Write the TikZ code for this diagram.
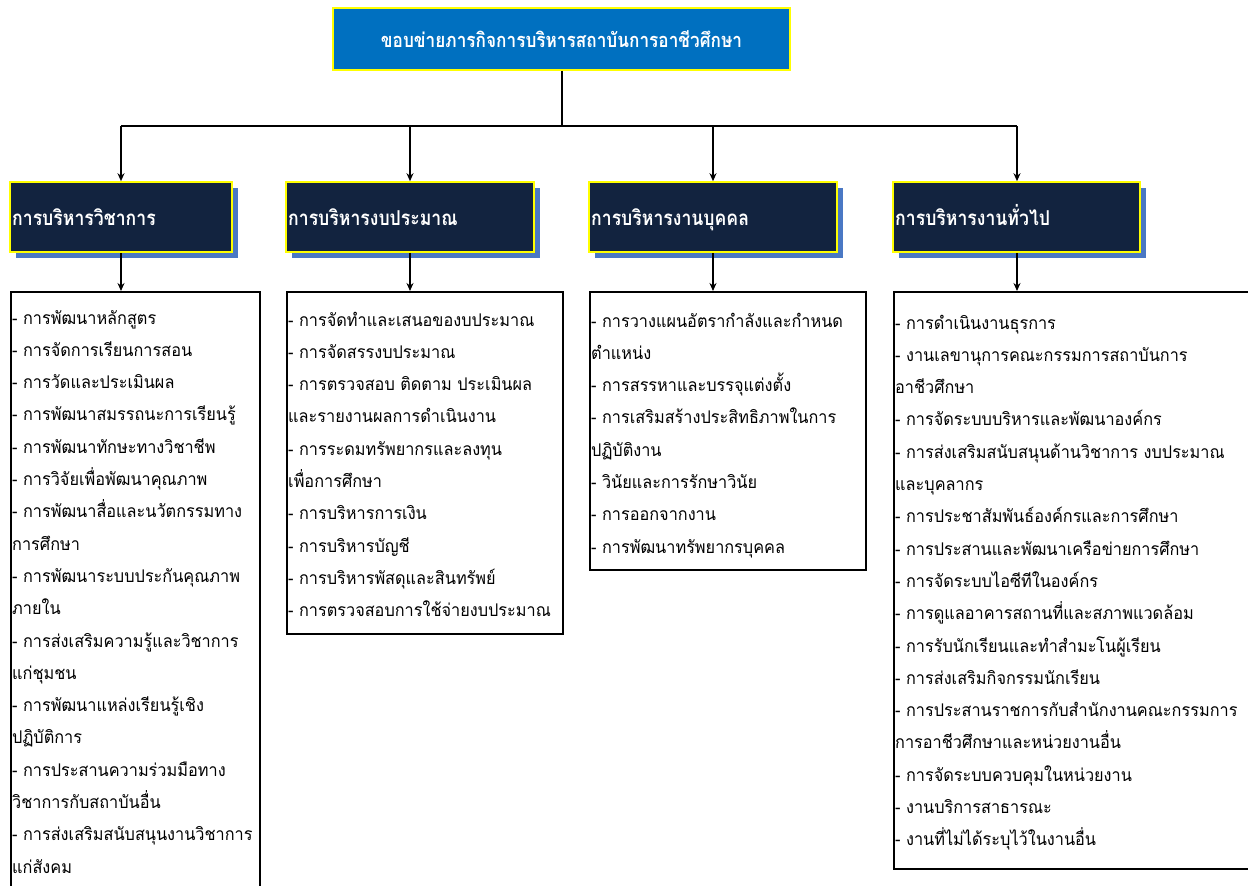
\documentclass[tikz,border=0pt]{standalone}
\usepackage{fontspec}
\newfontfamily\thai[Script=Thai,FakeStretch=0.93]{Loma}
\newfontfamily\thaihdr[Script=Thai,FakeStretch=0.86]{Loma}
\usetikzlibrary{arrows.meta}
\definecolor{topblue}{HTML}{0070C0}
\definecolor{navy}{HTML}{12233F}
\definecolor{shadowblue}{HTML}{4A78C4}
\definecolor{ylw}{HTML}{FFFF00}
\begin{document}
\begin{tikzpicture}[x=1pt,y=-1pt,
  conn/.style={line width=1.8pt,black},
  arr/.style={line width=1.8pt,black,-{Stealth[length=8pt,width=7pt]}},
  titlebox/.style={draw=ylw,line width=1.6pt,fill=topblue,inner sep=0pt},
  hdrbox/.style={draw=ylw,line width=1.6pt,fill=navy,inner sep=0pt},
  shadowbox/.style={fill=shadowblue,draw=none,inner sep=0pt},
  listbox/.style={draw=black,line width=1.5pt,fill=white,inner sep=0pt},
  hdrtext/.style={text=white,font=\thaihdr\bfseries\fontsize{20.5}{23}\selectfont,inner sep=0pt,anchor=base west},
  item/.style={text=black,font=\thai\fontsize{17.5}{20}\selectfont,inner sep=0pt,anchor=base west}]
\useasboundingbox (0,0) rectangle (1248,886);
\clip (0,0) rectangle (1248,886);
% title
\node[titlebox,minimum width=457pt,minimum height=62pt] (top) at (561.5,39) {};
\node[text=white,font=\thaihdr\bfseries\fontsize{20}{23}\selectfont,inner sep=0pt] (toptext) at (top.center) {ขอบข่ายภารกิจการบริหารสถาบันการอาชีวศึกษา};
% shadows
\node[shadowbox,minimum width=222pt,minimum height=70pt] (s1) at (127,223) {};
\node[shadowbox,minimum width=248pt,minimum height=70pt] (s2) at (416,223) {};
\node[shadowbox,minimum width=248pt,minimum height=70pt] (s3) at (719,223) {};
\node[shadowbox,minimum width=247pt,minimum height=70pt] (s4) at (1022.5,223) {};
% headers
\node[hdrbox,minimum width=222pt,minimum height=70pt] (h1) at (121,217) {};
\node[hdrbox,minimum width=248pt,minimum height=70pt] (h2) at (410,217) {};
\node[hdrbox,minimum width=248pt,minimum height=70pt] (h3) at (713,217) {};
\node[hdrbox,minimum width=247pt,minimum height=70pt] (h4) at (1016.5,217) {};
\node[hdrtext] (t1) at (12,225) {การบริหารวิชาการ};
\node[hdrtext] (t2) at (288,225) {การบริหารงบประมาณ};
\node[hdrtext] (t3) at (591,225) {การบริหารงานบุคคล};
\node[hdrtext] (t4) at (895,225) {การบริหารงานทั่วไป};
% list boxes
\node[listbox,minimum width=249pt,minimum height=610pt,anchor=north west] (b1) at (10,291) {};
\node[listbox,minimum width=276pt,minimum height=342pt,anchor=north west] (b2) at (286,291) {};
\node[listbox,minimum width=276pt,minimum height=278pt,anchor=north west] (b3) at (589,291) {};
\node[listbox,minimum width=370pt,minimum height=577pt,anchor=north west] (b4) at (893,291) {};
% connectors
\coordinate (j) at (562,126);
\coordinate (j1) at (121,126);
\coordinate (j2) at (410,126);
\coordinate (j3) at (713,126);
\coordinate (j4) at (1017,126);
\draw[conn] (top.south -| j) -- (j);
\draw[conn] (j1) -- (j4);
\draw[arr] (j1) -- (h1.north);
\draw[arr] (j2) -- (h2.north);
\draw[arr] (j3) -- (h3.north);
\draw[arr] (j4) -- (h4.north -| j4);
\draw[arr] (h1.south) -- (b1.north -| h1.south);
\draw[arr] (h2.south) -- (b2.north -| h2.south);
\draw[arr] (h3.south) -- (b3.north -| h3.south);
\draw[arr] (h4.south -| j4) -- (b4.north -| j4);
% items
\foreach \t [count=\i] in {- การพัฒนาหลักสูตร,- การจัดการเรียนการสอน,- การวัดและประเมินผล,- การพัฒนาสมรรถนะการเรียนรู้,- การพัฒนาทักษะทางวิชาชีพ,- การวิจัยเพื่อพัฒนาคุณภาพ,- การพัฒนาสื่อและนวัตกรรมทาง,การศึกษา,- การพัฒนาระบบประกันคุณภาพ,ภายใน,- การส่งเสริมความรู้และวิชาการ,แก่ชุมชน,- การพัฒนาแหล่งเรียนรู้เชิง,ปฏิบัติการ,- การประสานความร่วมมือทาง,วิชาการกับสถาบันอื่น,- การส่งเสริมสนับสนุนงานวิชาการ,แก่สังคม}
  \node[item] (a\i) at (12,{324+32.3*(\i-1)}) {\t};
\foreach \t [count=\i] in {- การจัดทำและเสนอของบประมาณ,- การจัดสรรงบประมาณ,- การตรวจสอบ ติดตาม ประเมินผล,และรายงานผลการดำเนินงาน,- การระดมทรัพยากรและลงทุน,เพื่อการศึกษา,- การบริหารการเงิน,- การบริหารบัญชี,- การบริหารพัสดุและสินทรัพย์,- การตรวจสอบการใช้จ่ายงบประมาณ}
  \node[item] (b\i) at (288,{326+32.3*(\i-1)}) {\t};
\foreach \t [count=\i] in {- การวางแผนอัตรากำลังและกำหนด,ตำแหน่ง,- การสรรหาและบรรจุแต่งตั้ง,- การเสริมสร้างประสิทธิภาพในการ,ปฏิบัติงาน,- วินัยและการรักษาวินัย,- การออกจากงาน,- การพัฒนาทรัพยากรบุคคล}
  \node[item] (c\i) at (591,{327+32.3*(\i-1)}) {\t};
\foreach \t [count=\i] in {- การดำเนินงานธุรการ,- งานเลขานุการคณะกรรมการสถาบันการ,อาชีวศึกษา,- การจัดระบบบริหารและพัฒนาองค์กร,- การส่งเสริมสนับสนุนด้านวิชาการ งบประมาณ,และบุคลากร,- การประชาสัมพันธ์องค์กรและการศึกษา,- การประสานและพัฒนาเครือข่ายการศึกษา,- การจัดระบบไอซีทีในองค์กร,- การดูแลอาคารสถานที่และสภาพแวดล้อม,- การรับนักเรียนและทำสำมะโนผู้เรียน,- การส่งเสริมกิจกรรมนักเรียน,- การประสานราชการกับสำนักงานคณะกรรมการ,การอาชีวศึกษาและหน่วยงานอื่น,- การจัดระบบควบคุมในหน่วยงาน,- งานบริการสาธารณะ,- งานที่ไม่ได้ระบุไว้ในงานอื่น}
  \node[item] (d\i) at (895,{329+32.3*(\i-1)}) {\t};
\end{tikzpicture}
\end{document}
